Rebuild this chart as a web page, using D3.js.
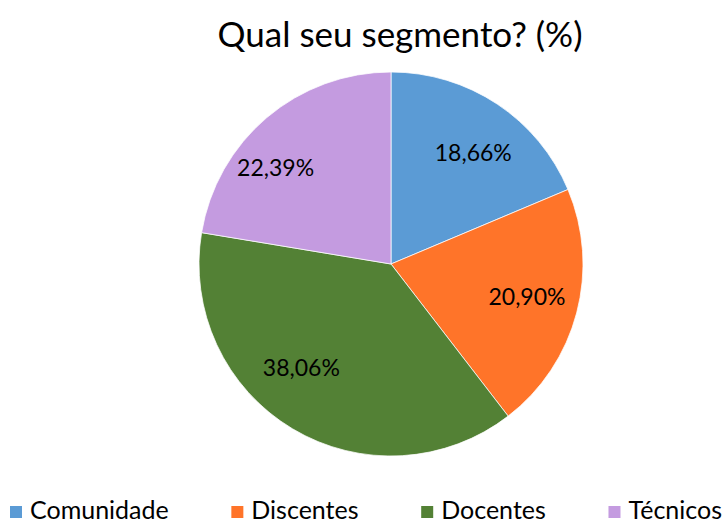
<!DOCTYPE html>
<html>
<head>
<meta charset="utf-8">
<script src="https://cdn.jsdelivr.net/npm/d3@7.9.0/dist/d3.min.js"></script>
<style>
  body { margin: 0; background: #fff; }
  svg text { font-family: Lato, "Open Sans", sans-serif; fill: #000; }
</style>
</head>
<body>
<svg id="chart" width="726" height="523"></svg>
<script>
// data
const categories = ['Comunidade', 'Discentes', 'Docentes', 'Técnicos'];
const values = [18.66, 20.90, 38.06, 22.39];
const sliceColors = ['#5B9BD5', '#FF7429', '#538135', '#C49BE0'];

// Excel "best fit" nudges for the labels (layout only, degrees / px)
const labelAngleShift = [3, -1, 10, -10];
const labelRadius = [138, 140, 137, 150];

const width = 726, height = 523;
const cx = 391, cy = 264, r = 192;

const svg = d3.select('#chart');

svg.append('text')
  .attr('x', 400)
  .attr('y', 47)
  .attr('text-anchor', 'middle')
  .style('font-size', '35px')
  .text('Qual seu segmento? (%)');

const pie = d3.pie().sort(null).value(d => d);
const arcs = pie(values);
const arc = d3.arc().innerRadius(0).outerRadius(r);

const g = svg.append('g').attr('transform', `translate(${cx},${cy})`);

g.selectAll('path')
  .data(arcs)
  .enter()
  .append('path')
  .attr('d', arc)
  .attr('fill', (d, i) => sliceColors[i])
  .attr('stroke', '#fff')
  .attr('stroke-width', 0.75);

g.selectAll('text.lbl')
  .data(arcs)
  .enter()
  .append('text')
  .attr('class', 'lbl')
  .attr('text-anchor', 'middle')
  .attr('dy', '0.35em')
  .attr('transform', (d, i) => {
    const a = (d.startAngle + d.endAngle) / 2 + labelAngleShift[i] * Math.PI / 180;
    return `translate(${Math.sin(a) * labelRadius[i]},${-Math.cos(a) * labelRadius[i]})`;
  })
  .style('font-size', '23px')
  .text(d => d.data.toFixed(2).replace('.', ',') + '%');

// legend: items spread from x=10 to x=722 with equal gaps
const leg = svg.append('g').selectAll('g')
  .data(categories)
  .enter()
  .append('g');

leg.append('rect')
  .attr('x', 0).attr('y', -13)
  .attr('width', 12).attr('height', 12)
  .attr('fill', (d, i) => sliceColors[i]);

leg.append('text')
  .attr('x', 20)
  .attr('y', 0)
  .style('font-size', '25px')
  .text(d => d);

const itemW = [];
leg.each(function () { itemW.push(this.getBBox().width); });
const gap = (722 - 10 - d3.sum(itemW)) / (categories.length - 1);
let xPos = 10;
leg.attr('transform', (d, i) => {
  const t = `translate(${xPos},519)`;
  xPos += itemW[i] + gap;
  return t;
});
</script>
</body>
</html>
